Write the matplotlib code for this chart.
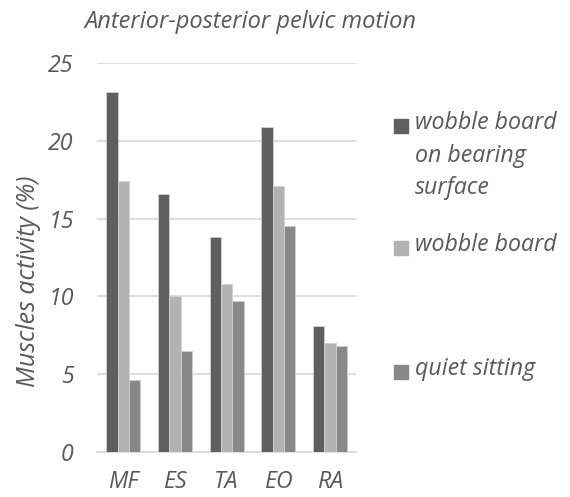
import matplotlib
matplotlib.use("Agg")
import matplotlib.pyplot as plt
from matplotlib.patches import Rectangle
import numpy as np

categories = ["MF", "ES", "TA", "EO", "RA"]
board_on_surface = [23.1, 16.6, 13.8, 20.9, 8.1]
wobble_board = [17.4, 10.0, 10.8, 17.1, 7.0]
quiet_sitting = [4.6, 6.5, 9.7, 14.5, 6.8]
series_labels = ["wobble board\non bearing\nsurface", "wobble board", "quiet sitting"]
colors = ["#5f5f5f", "#b3b3b3", "#888888"]

plt.rcParams['font.family'] = ['Open Sans', 'DejaVu Sans']
txt = "#595959"
fs = 16.7

fig = plt.figure(figsize=(5.7, 4.97), dpi=100)
ax = fig.add_axes([0.171, 0.0905, 0.453, 0.783])

x = np.arange(len(categories))
w = 0.22
for i, vals in enumerate([board_on_surface, wobble_board, quiet_sitting]):
    ax.bar(x + (i - 1) * w, vals, w, color=colors[i], edgecolor="#d0d0d0", linewidth=0.6, zorder=3)

ax.set_xlim(-0.5, 4.5)
ax.set_ylim(0, 25)
ax.set_yticks([0, 5, 10, 15, 20, 25])
ax.set_xticks(x)
ax.set_xticklabels(categories)
ax.grid(axis="y", color="#d9d9d9", linewidth=1.2, zorder=0)
for s in ["top", "right", "left"]:
    ax.spines[s].set_visible(False)
ax.spines["bottom"].set_color("#d9d9d9")
ax.spines["bottom"].set_linewidth(1.2)
ax.tick_params(length=0, labelsize=fs, labelcolor=txt)
ax.tick_params(axis="y", pad=17)
ax.tick_params(axis="x", pad=13)
for lab in ax.get_xticklabels() + ax.get_yticklabels():
    lab.set_fontstyle("italic")

fig.text(29 / 570, 1 - 281 / 497, "Muscles activity (%)", fontsize=18, color=txt,
         style="italic", rotation=90, ha="center", va="center")
fig.text(84 / 570, 1 - 22 / 497, "Anterior-posterior pelvic motion", fontsize=17, color=txt,
         style="italic", va="center", ha="left")

# legend placed by hand, spread like the original
leg_y = [1 - 126 / 497, 1 - 248 / 497, 1 - 372 / 497]
for lab, c, yy in zip(series_labels, colors, leg_y):
    fig.patches.append(Rectangle((394 / 570, yy - 7 / 497), 14 / 570, 14 / 497,
                                 transform=fig.transFigure, color=c, zorder=3))
    fig.text(415 / 570, yy + 15 / 497, lab, fontsize=fs, color=txt, style="italic",
             va="top", ha="left", linespacing=1.48)

fig.savefig("out.png", dpi=100)
